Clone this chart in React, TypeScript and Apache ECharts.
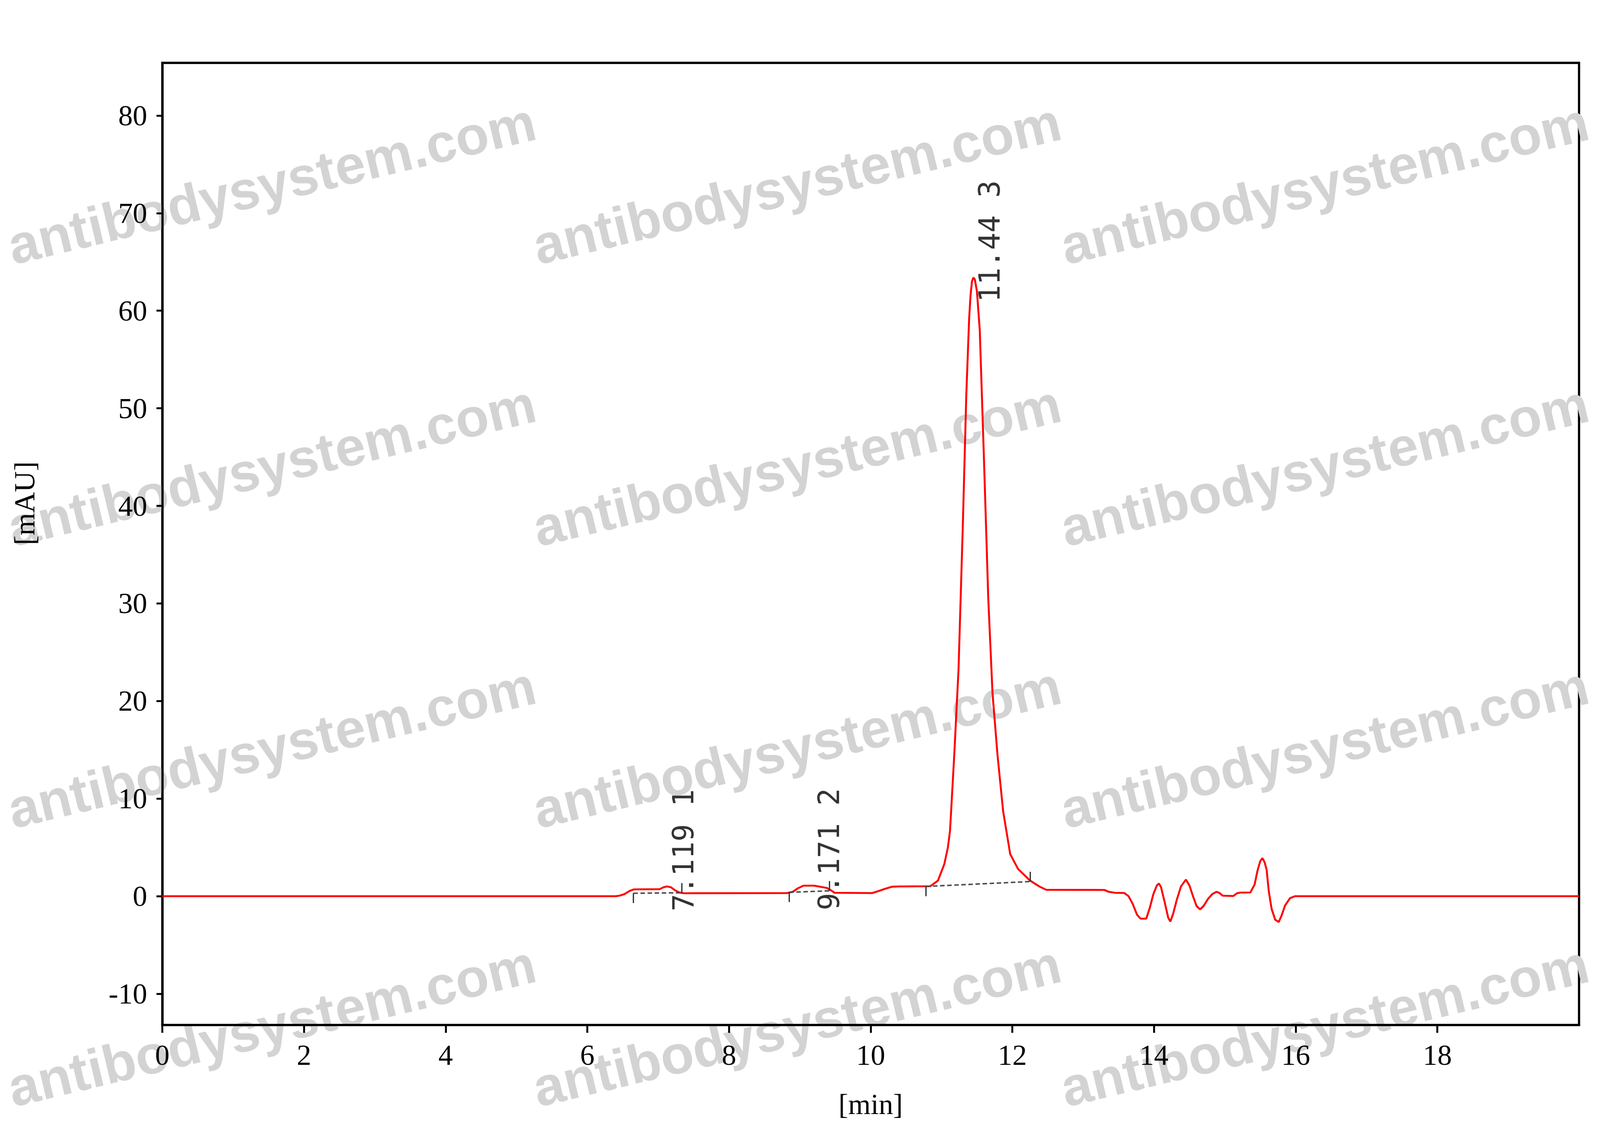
import { useEffect, useRef } from 'react';
import * as echarts from 'echarts';

// retention time [min] and detector signal [mAU]
const timeMin = [
    0, 6.4, 6.45, 6.52, 6.6, 6.66, 7.02, 7.07, 7.12, 7.18, 7.24, 7.3, 7.36,
    8.82, 8.9, 8.97, 9.05, 9.2, 9.38, 9.44, 9.49,
    10.02, 10.1, 10.2, 10.3, 10.4, 10.84, 10.95, 11.04, 11.09, 11.12, 11.18, 11.24, 11.3,
    11.35, 11.39, 11.41, 11.43, 11.45, 11.47, 11.5, 11.54, 11.6, 11.66, 11.72, 11.79,
    11.87, 11.97, 12.08, 12.25, 12.38, 12.48,
    13.3, 13.36, 13.45, 13.58, 13.64, 13.7, 13.76, 13.81, 13.89, 13.94, 13.99, 14.04,
    14.07, 14.1, 14.15, 14.2, 14.23, 14.27, 14.32, 14.38, 14.45, 14.5, 14.55, 14.6,
    14.65, 14.7, 14.76, 14.82, 14.88, 14.92, 14.97, 15.12, 15.17, 15.22, 15.36, 15.42,
    15.46, 15.5, 15.53, 15.56, 15.59, 15.62, 15.66, 15.71, 15.76, 15.8, 15.85, 15.92,
    15.99, 20,
];
const signalMAU = [
    0, 0, 0.05, 0.2, 0.55, 0.7, 0.72, 0.9, 1.0, 0.92, 0.6, 0.38, 0.3,
    0.32, 0.45, 0.8, 1.08, 1.08, 0.85, 0.6, 0.35,
    0.32, 0.5, 0.75, 0.97, 1.0, 1.02, 1.6, 3.3, 5.0, 6.7, 14.5, 23.2, 37.8,
    51.4, 59.2, 61.6, 63.0, 63.4, 63.2, 62.0, 58.0, 44.6, 30.5, 20.8, 14.5,
    8.7, 4.3, 2.8, 1.6, 1.0, 0.65,
    0.64, 0.45, 0.35, 0.33, 0.0, -0.8, -1.9, -2.3, -2.3, -1.2, 0.2, 1.1,
    1.3, 0.9, -0.6, -2.2, -2.6, -1.8, -0.4, 1.0, 1.7, 1.1, 0.0, -1.0,
    -1.35, -1.0, -0.3, 0.2, 0.45, 0.35, 0.05, 0.02, 0.3, 0.37, 0.38, 1.2,
    2.6, 3.6, 3.9, 3.5, 2.7, 0.5, -1.3, -2.4, -2.65, -2.0, -0.95, -0.2,
    0, 0,
];

// integrated peaks
const peakTimes = [7.119, 9.171, 11.44];
const peakHeights = [1.0, 1.1, 63.4];
const peakLabels = ['7.119 1', '9.171 2', '11.44 3'];

// integration baselines: start and end points [min, mAU]
const baselineStart = [[6.65, 0.3], [8.85, 0.4], [10.78, 1.0]];
const baselineEnd = [[7.33, 0.35], [9.415, 0.55], [12.25, 1.5]];
const markerLength = 1.0;

const xTicks = [0, 2, 4, 6, 8, 10, 12, 14, 16, 18];
const yTicks = [-10, 0, 10, 20, 30, 40, 50, 60, 70, 80];

const WATERMARK = 'antibodysystem.com';

// layout was measured on a 6033 x 2899 picture; everything scales from it
const REF_W = 6033;
const REF_H = 2899;
const wmCols = [50, 2030, 4020];
const wmRows = [678, 1400, 2122, 2835];

const serif = 'Liberation Serif';

function buildOption(w: number, h: number) {
    const sx = w / REF_W;
    const sy = h / REF_H;
    const k = Math.sqrt(sx * sy);
    const font = 90 * k;

    const trace = timeMin.map((t, i) => [t, signalMAU[i]]);

    const baselineSeries = baselineStart.map((s, i) => {
        const e = baselineEnd[i];
        return {
            type: 'line',
            name: `baseline ${i + 1}`,
            data: [s, e],
            showSymbol: false,
            symbol: 'none',
            silent: true,
            z: 4,
            lineStyle: { color: '#4a4a4a', width: 4.5 * k, type: [14 * k, 8 * k] },
            markLine: {
                silent: true,
                symbol: 'none',
                label: { show: false },
                lineStyle: { color: '#333', width: 4 * k, type: 'solid' },
                data: [
                    [{ coord: s }, { coord: [s[0], s[1] - markerLength] }],
                    [{ coord: e }, { coord: [e[0], e[1] + markerLength] }],
                ],
            },
        };
    });

    // watermark, bold sans, slanted upwards
    const wmSize = 205 * sx;
    const watermarks = wmCols.flatMap((x) =>
        wmRows.map((y) => ({
            type: 'group',
            x: x * sx,
            y: y * sy,
            rotation: (13.5 * Math.PI) / 180,
            silent: true,
            z: 1,
            children: [
                {
                    type: 'text',
                    x: 0,
                    y: -0.3465 * wmSize,
                    style: {
                        text: WATERMARK,
                        fontFamily: 'Liberation Sans',
                        fontWeight: 'bold',
                        fontSize: wmSize,
                        fill: '#d3d3d3',
                        textAlign: 'left',
                        align: 'left',
                        textVerticalAlign: 'middle',
                        verticalAlign: 'middle',
                    },
                },
            ],
        }))
    );

    return {
        animation: false,
        backgroundColor: '#fff',
        graphic: watermarks,
        grid: {
            left: 612 * sx,
            right: 79 * sx,
            top: 161 * sy,
            bottom: 274 * sy,
            show: true,
            borderColor: '#000',
            borderWidth: 7 * k,
            backgroundColor: 'transparent',
            outerBoundsMode: 'none',
        },
        xAxis: {
            type: 'value',
            min: 0,
            max: 20,
            name: '[min]',
            nameLocation: 'middle',
            nameGap: 166 * sy,
            nameTextStyle: { fontFamily: serif, fontSize: font, color: '#000' },
            axisLine: { show: true, onZero: false, lineStyle: { color: '#000', width: 7 * k } },
            axisTick: { show: true, length: 20 * sy, customValues: xTicks, lineStyle: { color: '#000', width: 6 * k } },
            axisLabel: { customValues: xTicks, margin: 40 * sy, fontFamily: serif, fontSize: font, color: '#000' },
            splitLine: { show: false },
        },
        yAxis: {
            type: 'value',
            min: -13.2,
            max: 85.4,
            name: '[mAU]',
            nameLocation: 'middle',
            nameGap: 464 * sx,
            nameTextStyle: { fontFamily: serif, fontSize: font, color: '#000', padding: [0, 0, 0, 208 * sy] },
            axisLine: { show: true, onZero: false, lineStyle: { color: '#000', width: 7 * k } },
            axisTick: { show: true, length: 22 * sx, customValues: yTicks, lineStyle: { color: '#000', width: 6 * k } },
            axisLabel: { customValues: yTicks, margin: 57 * sx, fontFamily: serif, fontSize: font, color: '#000' },
            splitLine: { show: false },
        },
        series: [
            {
                type: 'line',
                name: 'signal',
                data: trace,
                showSymbol: false,
                symbol: 'none',
                z: 3,
                lineStyle: { color: '#ff0000', width: 6 * k },
            },
            ...baselineSeries,
            {
                type: 'scatter',
                name: 'peaks',
                data: peakTimes.map((t, i) => [t, peakHeights[i]]),
                symbolSize: 1,
                z: 5,
                itemStyle: { color: 'rgba(0,0,0,0)' },
                label: {
                    show: true,
                    formatter: (p: any) => peakLabels[p.dataIndex],
                    position: [64 * sx, 64 * sy],
                    rotate: 90,
                    align: 'left',
                    verticalAlign: 'middle',
                    fontFamily: 'DejaVu Sans Mono',
                    fontSize: font,
                    color: '#000',
                },
            },
        ],
    };
}

export default function App() {
    const chartRef = useRef<HTMLDivElement>(null);

    useEffect(() => {
        const el = chartRef.current;
        if (!el) return;
        const chart = echarts.init(el, undefined, { renderer: 'svg' });

        const render = () => {
            chart.resize();
            chart.setOption(buildOption(el.clientWidth, el.clientHeight) as any, true);
        };
        render();

        window.addEventListener('resize', render);
        return () => {
            window.removeEventListener('resize', render);
            chart.dispose();
        };
    }, []);

    return (
        <div
            ref={chartRef}
            style={{ position: 'fixed', left: 0, top: 0, width: '100vw', height: '100vh' }}
        />
    );
}
